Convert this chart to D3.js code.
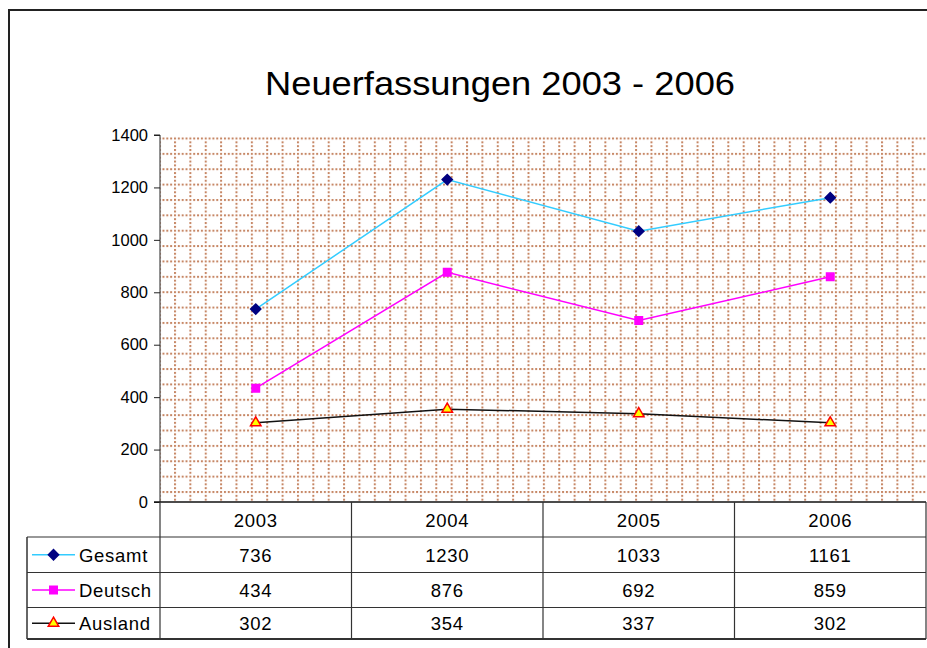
<!DOCTYPE html>
<html lang="de">
  <head>
    <meta charset="utf-8" />
    <script src="https://d3js.org/d3.v7.min.js" charset="utf-8"></script>
  </head>

  <style>
    body {
      margin: 0;
      background: #fff;
      font-family: 'Liberation Sans', Arial, sans-serif;
    }
    .axis text {
      font-size: 16.5px;
      fill: #000;
    }
    .cell {
      font-size: 18.5px;
      letter-spacing: 0.7px;
      fill: #000;
    }
  </style>

  <body>
    <div id="plot-container"></div>

    <script type="text/javascript">
      // data //--------------------------------------------------------
      var years = ['2003', '2004', '2005', '2006'];
      var gesamt = [736, 1230, 1033, 1161];
      var deutsch = [434, 876, 692, 859];
      var ausland = [302, 354, 337, 302];
      var series_names = ['Gesamt', 'Deutsch', 'Ausland'];
      var y_ticks = [0, 200, 400, 600, 800, 1000, 1200, 1400];
      var chart_title = 'Neuerfassungen 2003 - 2006';

      // layout //------------------------------------------------------
      var svg_size = { width: 927, height: 648 };
      var plot_box = { left: 160, right: 926, top: 135, bottom: 502 };
      var table_rows = [502, 537, 572.5, 607.5, 639];
      var legend_left = 27;

      var series_styles = [
        { line: '#33ccff', symbol: d3.symbolSquare, size: 52, rotate: 45, fill: '#000080', stroke: '#000080' },
        { line: '#ff00ff', symbol: d3.symbolSquare, size: 56, rotate: 0, fill: '#ff00ff', stroke: '#ff00ff' },
        { line: '#111111', symbol: d3.symbolTriangle, size: 48, rotate: 0, fill: '#ffff00', stroke: '#ff0000' },
      ];

      var series = [gesamt, deutsch, ausland].map(function (values, i) {
        return { name: series_names[i], values: values, style: series_styles[i] };
      });

      var svg = d3
        .select('#plot-container')
        .append('svg')
        .attr('width', svg_size.width)
        .attr('height', svg_size.height);

      // scales
      var scale_x = d3
        .scaleBand()
        .domain(years)
        .range([plot_box.left, plot_box.right])
        .padding(0);

      var scale_y = d3
        .scaleLinear()
        .domain([0, 1400])
        .range([plot_box.bottom, plot_box.top]);

      // dotted grid pattern of the plot area
      var step = 15.37;
      var pattern = svg
        .append('defs')
        .append('pattern')
        .attr('id', 'dotgrid')
        .attr('patternUnits', 'userSpaceOnUse')
        .attr('x', 174)
        .attr('y', 137.5)
        .attr('width', step)
        .attr('height', step);

      d3.range(4).forEach(function (k) {
        pattern
          .append('rect')
          .attr('x', (k * step) / 4)
          .attr('y', 0)
          .attr('width', 2)
          .attr('height', 2)
          .attr('fill', '#b8693f')
          .attr('opacity', 0.8);
        if (k > 0) {
          pattern
            .append('rect')
            .attr('x', 0)
            .attr('y', (k * step) / 4)
            .attr('width', 2)
            .attr('height', 2)
            .attr('fill', '#b8693f')
            .attr('opacity', 0.8);
        }
      });

      // outer chart frame (cut off at right and bottom)
      svg
        .append('rect')
        .attr('x', 9)
        .attr('y', 10)
        .attr('width', 940)
        .attr('height', 680)
        .attr('fill', 'none')
        .attr('stroke', '#222')
        .attr('stroke-width', 2);

      // title
      svg
        .append('text')
        .attr('x', 500)
        .attr('y', 95)
        .attr('text-anchor', 'middle')
        .attr('textLength', 470)
        .attr('lengthAdjust', 'spacingAndGlyphs')
        .style('font-size', '32.5px')
        .attr('fill', '#000')
        .text(chart_title);

      // plot area
      svg
        .append('rect')
        .attr('x', plot_box.left)
        .attr('y', plot_box.top + 1)
        .attr('width', plot_box.right - plot_box.left)
        .attr('height', plot_box.bottom - plot_box.top - 1)
        .attr('fill', 'url(#dotgrid)');

      // y axis
      var axis_y = svg
        .append('g')
        .attr('class', 'axis')
        .attr('transform', 'translate(' + plot_box.left + ',0)')
        .call(
          d3.axisLeft(scale_y).tickValues(y_ticks).tickSize(6).tickPadding(6).tickFormat(d3.format('d'))
        );
      axis_y.selectAll('path, line').attr('stroke', '#222');
      axis_y.select('.domain').attr('d', 'M-6,' + plot_box.top + 'H0V' + plot_box.bottom);

      // x axis line
      svg
        .append('line')
        .attr('x1', plot_box.left - 6)
        .attr('x2', plot_box.right)
        .attr('y1', plot_box.bottom)
        .attr('y2', plot_box.bottom)
        .attr('stroke', '#111')
        .attr('stroke-width', 1.5);

      // lines and markers
      var line = d3
        .line()
        .x(function (d, i) {
          return scale_x(years[i]) + scale_x.bandwidth() / 2;
        })
        .y(function (d) {
          return scale_y(d);
        });

      series.forEach(function (s) {
        svg
          .append('path')
          .attr('d', line(s.values))
          .attr('fill', 'none')
          .attr('stroke', s.style.line)
          .attr('stroke-width', 1.5);
      });

      function marker_transform(x, y, style) {
        return 'translate(' + x + ',' + y + ') rotate(' + style.rotate + ')';
      }

      series.forEach(function (s) {
        svg
          .append('g')
          .selectAll('path')
          .data(s.values)
          .join('path')
          .attr('transform', function (d, i) {
            return marker_transform(scale_x(years[i]) + scale_x.bandwidth() / 2, scale_y(d), s.style);
          })
          .attr('d', d3.symbol().type(s.style.symbol).size(s.style.size))
          .attr('fill', s.style.fill)
          .attr('stroke', s.style.stroke)
          .attr('stroke-width', 1.5);
      });

      // data table //--------------------------------------------------
      var table = svg.append('g').attr('class', 'table');
      var table_color = '#333';

      // horizontal rules
      table_rows.slice(1).forEach(function (y, i) {
        table
          .append('line')
          .attr('x1', legend_left)
          .attr('x2', plot_box.right)
          .attr('y1', y)
          .attr('y2', y)
          .attr('stroke', table_color)
          .attr('stroke-width', i === table_rows.length - 2 ? 2 : 1.2);
      });

      // vertical rules
      table
        .append('line')
        .attr('x1', legend_left)
        .attr('x2', legend_left)
        .attr('y1', table_rows[1])
        .attr('y2', table_rows[table_rows.length - 1])
        .attr('stroke', table_color)
        .attr('stroke-width', 1.5);

      years.concat(['end']).forEach(function (yr, i) {
        var x = i < years.length ? scale_x(yr) : plot_box.right;
        table
          .append('line')
          .attr('x1', x)
          .attr('x2', x)
          .attr('y1', table_rows[0])
          .attr('y2', table_rows[table_rows.length - 1])
          .attr('stroke', table_color)
          .attr('stroke-width', 1.2);
      });

      // header: years
      table
        .selectAll('.year')
        .data(years)
        .join('text')
        .attr('class', 'cell year')
        .attr('x', function (d) {
          return scale_x(d) + scale_x.bandwidth() / 2;
        })
        .attr('y', (table_rows[0] + table_rows[1]) / 2 + 7)
        .attr('text-anchor', 'middle')
        .text(function (d) {
          return d;
        });

      // rows: legend key + values
      series.forEach(function (s, r) {
        var cy = (table_rows[r + 1] + table_rows[r + 2]) / 2;

        table
          .append('line')
          .attr('x1', 32)
          .attr('x2', 75)
          .attr('y1', cy)
          .attr('y2', cy)
          .attr('stroke', s.style.line)
          .attr('stroke-width', 1.5);

        table
          .append('path')
          .attr('transform', marker_transform(53.5, cy, s.style))
          .attr('d', d3.symbol().type(s.style.symbol).size(s.style.size))
          .attr('fill', s.style.fill)
          .attr('stroke', s.style.stroke)
          .attr('stroke-width', 1.5);

        table
          .append('text')
          .attr('class', 'cell')
          .attr('x', 79)
          .attr('y', cy + 7)
          .text(s.name);

        table
          .selectAll('.val' + r)
          .data(s.values)
          .join('text')
          .attr('class', 'cell val' + r)
          .attr('x', function (d, i) {
            return scale_x(years[i]) + scale_x.bandwidth() / 2;
          })
          .attr('y', cy + 7)
          .attr('text-anchor', 'middle')
          .text(function (d) {
            return d;
          });
      });
    </script>
  </body>
</html>
